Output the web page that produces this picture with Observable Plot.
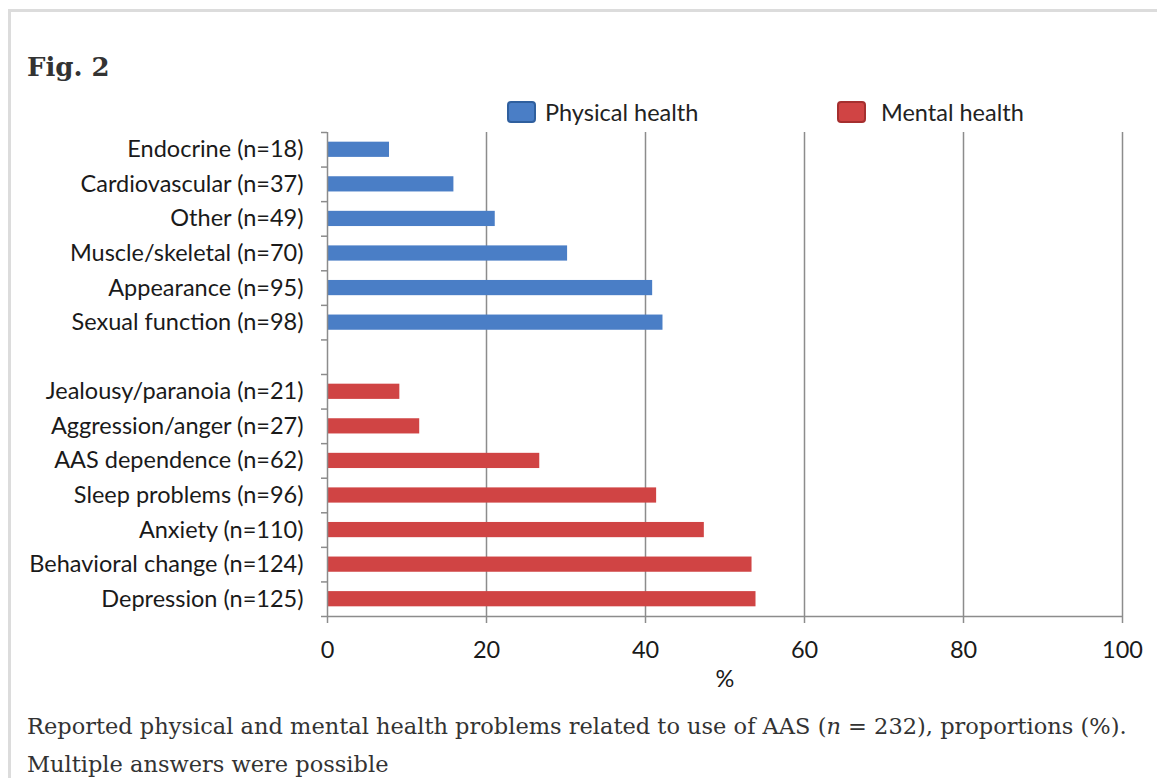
<!DOCTYPE html>
<html>
<head>
<meta charset="utf-8">
<script src="https://cdn.jsdelivr.net/npm/d3@7"></script>
<script src="https://cdn.jsdelivr.net/npm/@observablehq/plot@0.6"></script>
<style>
  html, body { margin: 0; padding: 0; background: #fff; }
  body { width: 1157px; height: 778px; position: relative; overflow: hidden; }
  #frame { position: absolute; left: 8px; top: 9px; width: 1160px; height: 780px;
           border-top: 3px solid #dcdcdc; border-left: 3px solid #dcdcdc; }
  #title { position: absolute; left: 27px; top: 52px; font-family: "DejaVu Serif", serif;
           font-weight: bold; font-size: 26px; color: #333; }
  .legend { position: absolute; top: 98px; font-family: Lato, sans-serif; font-size: 23.5px; color: #222;
            display: flex; align-items: center; }
  .sw { width: 29px; height: 22px; border-radius: 4px; box-sizing: border-box; }
  #chart { position: absolute; left: 0; top: 100px; }
  #caption { position: absolute; left: 27px; top: 707px; width: 1130px; font-family: "DejaVu Serif", serif;
             font-size: 22.5px; line-height: 38px; color: #333; white-space: nowrap; }
</style>
</head>
<body>
<div id="frame"></div>
<div id="title">Fig. 2</div>
<div id="legend"></div>
<div id="chart"></div>
<div id="caption">Reported physical and mental health problems related to use of AAS (<i>n</i> = 232), proportions (%).<br>Multiple answers were possible</div>
<script>
const physicalLabels = ["Endocrine (n=18)", "Cardiovascular (n=37)", "Other (n=49)", "Muscle/skeletal (n=70)", "Appearance (n=95)", "Sexual function (n=98)"];
const physicalValues = [7.8, 15.9, 21.1, 30.2, 40.9, 42.2];
const mentalLabels = ["Jealousy/paranoia (n=21)", "Aggression/anger (n=27)", "AAS dependence (n=62)", "Sleep problems (n=96)", "Anxiety (n=110)", "Behavioral change (n=124)", "Depression (n=125)"];
const mentalValues = [9.1, 11.6, 26.7, 41.4, 47.4, 53.4, 53.9];
const seriesNames = ["Physical health", "Mental health"];
const seriesColors = ["#4a7ec6", "#d04444"];
const seriesBorders = ["#2f5f9e", "#a52f2f"];
const xTicks = [0, 20, 40, 60, 80, 100];

// rows top->bottom, with one blank row between groups
const rows = [];
physicalLabels.forEach((l, i) => rows.push({label: l, value: physicalValues[i], group: seriesNames[0]}));
rows.push(null);
mentalLabels.forEach((l, i) => rows.push({label: l, value: mentalValues[i], group: seriesNames[1]}));
const data = rows.map((r, i) => r && ({...r, idx: i})).filter(Boolean);
const n = rows.length;
const boundaries = d3.range(n + 1).map(i => i - 0.5);
const half = 0.22;

// legend
const legend = document.getElementById("legend");
const legendLeft = [507, 837];
const legendGap = [9, 15];
seriesNames.forEach((s, i) => {
  const d = document.createElement("div");
  d.className = "legend";
  d.style.left = legendLeft[i] + "px";
  d.innerHTML = `<div class="sw" style="background:${seriesColors[i]};border:2px solid ${seriesBorders[i]};margin-right:${legendGap[i]}px"></div><span>${s}</span>`;
  legend.appendChild(d);
});

const grid = "#8c8c8c";
const chart = Plot.plot({
  width: 1157,
  height: 596,
  marginLeft: 327,
  marginRight: 35,
  marginTop: 32,
  marginBottom: 80,
  style: {fontFamily: "Lato, sans-serif", fontSize: "23.5px", color: "#1a1a1a", background: "transparent", overflow: "visible"},
  x: {type: "linear", domain: [0, 100]},
  y: {type: "linear", domain: [-0.5, n - 0.5], reverse: true},
  color: {domain: seriesNames, range: seriesColors},
  marks: [
    Plot.ruleX(xTicks.filter(d => d > 0), {stroke: grid, strokeWidth: 1.5}),
    Plot.rectX(data, {x1: 0, x2: "value", y1: d => d.idx - half, y2: d => d.idx + half, fill: "group"}),
    Plot.ruleX([0], {stroke: grid, strokeWidth: 1.5}),
    Plot.ruleY([n - 0.5], {stroke: grid, strokeWidth: 1.5}),
    Plot.axisX({ticks: xTicks, tickSize: 7, tickPadding: 18, stroke: grid, strokeWidth: 1.5,
                label: "%", labelAnchor: "center", labelArrow: "none", labelOffset: 70}),
    Plot.axisY({ticks: boundaries, tickSize: 6, tickFormat: () => "", stroke: grid, strokeWidth: 1.5, label: null}),
    Plot.axisY({ticks: data.map(d => d.idx), tickSize: 0, tickPadding: 24,
                tickFormat: i => rows[i] ? rows[i].label : "", label: null})
  ]
});
document.getElementById("chart").appendChild(chart);
</script>
</body>
</html>
